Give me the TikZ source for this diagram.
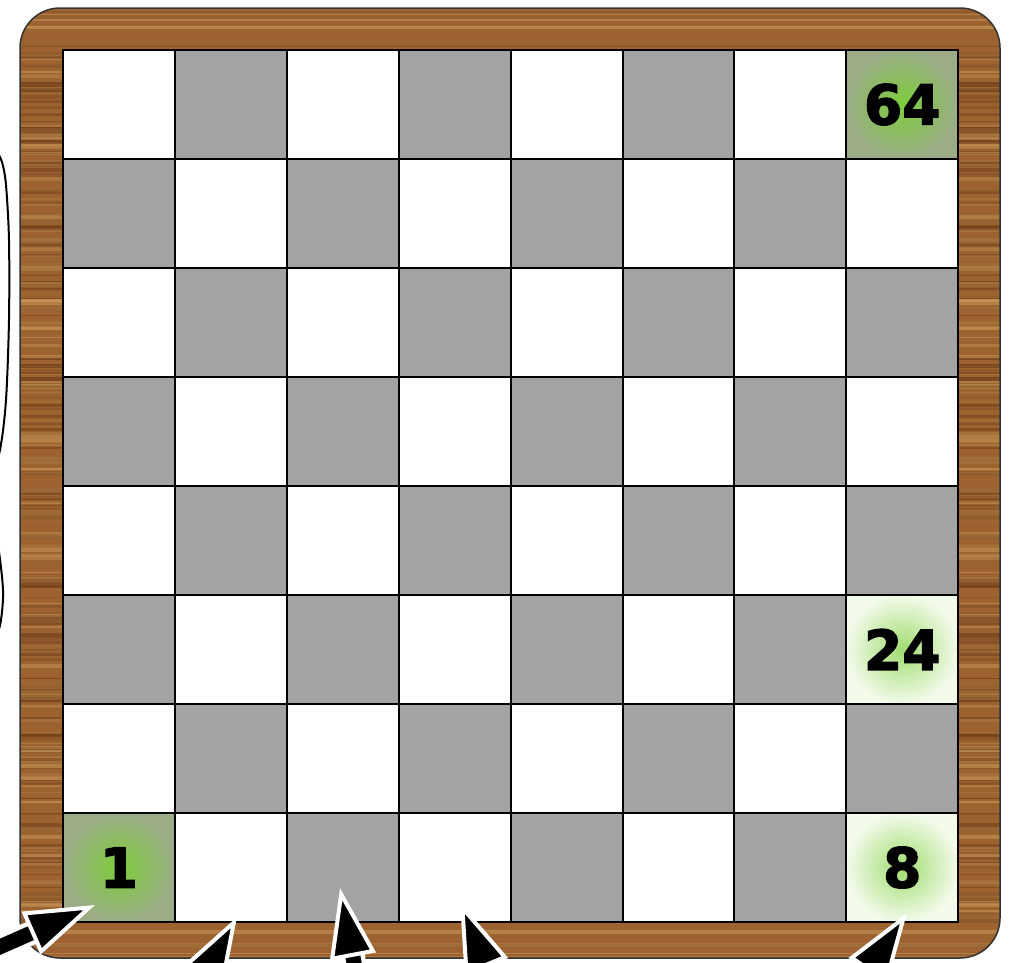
\documentclass[tikz,border=0pt]{standalone}
\usepackage{fontspec}
\setmainfont{DejaVu Sans}
\newfontfamily\heavyfont[FakeBold=2.5]{DejaVu Sans Bold}
\usetikzlibrary{positioning,arrows.meta,calc}
\definecolor{woodbase}{RGB}{156,98,48}
\definecolor{wooddark}{RGB}{100,50,18}
\definecolor{woodlight}{RGB}{205,155,90}
\definecolor{sqgray}{RGB}{163,163,163}
\definecolor{glowgreen}{RGB}{125,205,60}
\definecolor{glowpale}{RGB}{160,220,110}
\definecolor{greygreen}{RGB}{155,172,135}
\definecolor{palewhite}{RGB}{242,250,234}

\begin{document}
\begin{tikzpicture}[
  x=1pt, y=-1pt,
  sq/.style={draw=black, line width=2pt, minimum width=111.9pt,
             minimum height=109pt, inner sep=0pt, outer sep=0pt},
  light/.style={sq, fill=white},
  dark/.style={sq, fill=sqgray},
  num/.style={font=\heavyfont\fontsize{55}{55}\selectfont, inner sep=0pt},
  ptrwhite/.style={white, line width=24pt, shorten >=55pt},
  ptr/.style={black, line width=15pt,
              -{Triangle[length=70pt,width=46pt,fill=black,color=white,line width=4pt]}}
]
\useasboundingbox (0,0) rectangle (1011,962);
\clip (0,0) rectangle (1011,962);
\fill[white] (0,0) rectangle (1011,962);
% wooden frame
\begin{scope}
  \clip[rounded corners=40pt] (20,8) rectangle (1000,958);
  \fill[woodbase] (20,8) rectangle (1000,958);
  \pgfmathsetseed{7}
  \foreach \i in {1,...,320}{
    \pgfmathsetmacro\yy{8+950*rnd}
    \pgfmathsetmacro\ww{0.6+4*rnd}
    \pgfmathsetmacro\tn{100*rnd}
    \fill[wooddark!\tn!woodlight, opacity=0.6] (20,\yy) rectangle (1000,\yy+\ww);
  }
\end{scope}
\draw[black!80, line width=1.5pt, rounded corners=40pt] (20,8) rectangle (1000,958);
% board squares
\foreach \r in {0,...,7}{
  \foreach \c in {0,...,7}{
    \pgfmathtruncatemacro\k{\r+\c}
    \ifodd\k\def\sqsty{dark}\else\def\sqsty{light}\fi
    \node[\sqsty] (c\r\c) at ({63+111.9*(\c+0.5)},{50+109*(\r+0.5)}) {};
  }
}
% glowing squares
\shade[inner color=glowgreen, outer color=greygreen] (c07.south west) rectangle (c07.north east);
\shade[inner color=glowgreen, outer color=greygreen] (c70.south west) rectangle (c70.north east);
\shade[inner color=glowpale, outer color=palewhite] (c57.south west) rectangle (c57.north east);
\shade[inner color=glowpale, outer color=palewhite] (c77.south west) rectangle (c77.north east);
\foreach \s in {c07,c70,c57,c77}
  \draw[line width=2pt] (\s.south west) rectangle (\s.north east);
\draw[line width=2pt] (c00.north west) rectangle (c77.south east);
\node[num] (n64) at (c07) {64};
\node[num] (n24) at (c57) {24};
\node[num] (n8) at (c77) {8};
\node[num] (n1) at (c70) {1};
% brace on the left
\draw[line width=2pt] plot[smooth] coordinates {(-4,150) (2,162) (6,185) (9,240) (9,320)
  (6,400) (0,450) (-12,495) (-2,545) (3,590) (1,620) (-4,640)};
% pointers
\coordinate (a1) at (-30,960);  \coordinate (p1) at (95,905);
\coordinate (a2) at (190,1000); \coordinate (p2) at (237,917);
\coordinate (a3) at (362,1005); \coordinate (p3) at (340,888);
\coordinate (a4) at (500,1000); \coordinate (p4) at (460,902);
\coordinate (a5) at (845,1005); \coordinate (p5) at (907,913);
\foreach \i in {1,...,5}{
  \draw[ptrwhite] (a\i) -- (p\i);
  \draw[ptr] (a\i) -- (p\i);
}
\end{tikzpicture}
\end{document}
